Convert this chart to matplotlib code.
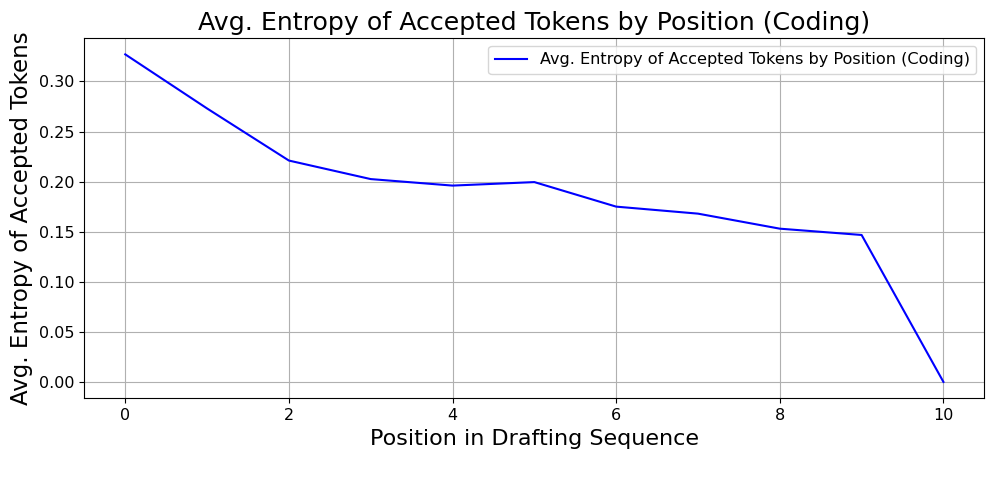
import numpy as np
import matplotlib
matplotlib.use("Agg")
import matplotlib.pyplot as plt

# positions in the drafting sequence and avg entropy of accepted tokens
positions = [0, 1, 2, 3, 4, 5, 6, 7, 8, 9, 10]
avg_entropy = [0.327, 0.273, 0.221, 0.2025, 0.196, 0.1995, 0.175, 0.168, 0.153, 0.1467, 0.0]

label = 'Avg. Entropy of Accepted Tokens by Position (Coding)'

fig, ax = plt.subplots(figsize=(9.97, 4.98), dpi=100)
ax.plot(positions, avg_entropy, color='blue', label=label)

ax.set_title(label, fontsize=18.2)
ax.set_xlabel('Position in Drafting Sequence', fontsize=16)
ax.set_ylabel('Avg. Entropy of Accepted Tokens', fontsize=16.5)
ax.tick_params(labelsize=11.5)
ax.grid(True)
ax.legend(fontsize=11.6, loc='upper right')

fig.subplots_adjust(left=0.0846, right=0.9873, top=0.9237, bottom=0.2002)
fig.savefig('out.png', dpi=100)
